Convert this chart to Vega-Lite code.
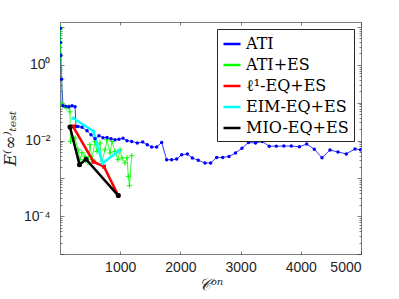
{
  "$schema": "https://vega.github.io/schema/vega-lite/v6.json",
  "width": 301,
  "height": 232,
  "autosize": "none",
  "padding": {"left": 60, "top": 22, "right": 38, "bottom": 45},
  "background": "white",
  "config": {
    "view": {"stroke": null},
    "axis": {"domainColor": "#262626", "tickColor": "#262626", "labelColor": "#262626", "labelFont": "Liberation Sans", "labelFontSize": 14, "grid": false, "domainWidth": 0.6, "tickWidth": 0.6, "titleColor": "#262626", "titleFontWeight": "normal"},
    "legend": {"orient": "top-right", "offset": 7, "labelFont": "DejaVu Serif", "labelFontSize": 16, "labelColor": "#000000", "strokeColor": "#262626", "fillColor": "white", "padding": 5, "rowPadding": 3, "symbolType": "stroke", "symbolSize": 290, "symbolStrokeWidth": 2.5, "labelOffset": 4, "title": null}
  },
  "data": {"values": [
    {"s": "ATI", "x": 5, "y": 9.3}, {"s": "ATI", "x": 8, "y": 3.88}, {"s": "ATI", "x": 13, "y": 1.76}, {"s": "ATI", "x": 25, "y": 0.42},
    {"s": "ATI", "x": 50, "y": 0.083}, {"s": "ATI", "x": 100, "y": 0.080}, {"s": "ATI", "x": 150, "y": 0.078}, {"s": "ATI", "x": 200, "y": 0.083}, {"s": "ATI", "x": 250, "y": 0.078},
    {"s": "ATI", "x": 266, "y": 0.0236}, {"s": "ATI", "x": 299, "y": 0.0236}, {"s": "ATI", "x": 365, "y": 0.0224}, {"s": "ATI", "x": 449, "y": 0.0181}, {"s": "ATI", "x": 515, "y": 0.0142},
    {"s": "ATI", "x": 581, "y": 0.0112}, {"s": "ATI", "x": 648, "y": 0.0134}, {"s": "ATI", "x": 714, "y": 0.0119}, {"s": "ATI", "x": 781, "y": 0.0121}, {"s": "ATI", "x": 847, "y": 0.0112},
    {"s": "ATI", "x": 914, "y": 0.0105}, {"s": "ATI", "x": 980, "y": 0.0108}, {"s": "ATI", "x": 1047, "y": 0.0115}, {"s": "ATI", "x": 1113, "y": 0.0099}, {"s": "ATI", "x": 1191, "y": 0.00946},
    {"s": "ATI", "x": 1284, "y": 0.00859}, {"s": "ATI", "x": 1374, "y": 0.00912}, {"s": "ATI", "x": 1450, "y": 0.00775}, {"s": "ATI", "x": 1523, "y": 0.00674}, {"s": "ATI", "x": 1606, "y": 0.00674},
    {"s": "ATI", "x": 1689, "y": 0.0089}, {"s": "ATI", "x": 1772, "y": 0.00311}, {"s": "ATI", "x": 1855, "y": 0.00311}, {"s": "ATI", "x": 1938, "y": 0.00325}, {"s": "ATI", "x": 2022, "y": 0.00422},
    {"s": "ATI", "x": 2115, "y": 0.0044}, {"s": "ATI", "x": 2198, "y": 0.00345}, {"s": "ATI", "x": 2297, "y": 0.003}, {"s": "ATI", "x": 2409, "y": 0.00255}, {"s": "ATI", "x": 2503, "y": 0.00255},
    {"s": "ATI", "x": 2603, "y": 0.00358}, {"s": "ATI", "x": 2703, "y": 0.00358}, {"s": "ATI", "x": 2807, "y": 0.0038}, {"s": "ATI", "x": 2915, "y": 0.00468}, {"s": "ATI", "x": 3023, "y": 0.00625},
    {"s": "ATI", "x": 3131, "y": 0.0089}, {"s": "ATI", "x": 3248, "y": 0.00859}, {"s": "ATI", "x": 3359, "y": 0.00946}, {"s": "ATI", "x": 3475, "y": 0.00707}, {"s": "ATI", "x": 3593, "y": 0.00711},
    {"s": "ATI", "x": 3718, "y": 0.00715}, {"s": "ATI", "x": 3842, "y": 0.00715}, {"s": "ATI", "x": 3978, "y": 0.00686}, {"s": "ATI", "x": 4098, "y": 0.00808}, {"s": "ATI", "x": 4224, "y": 0.00589},
    {"s": "ATI", "x": 4352, "y": 0.00352}, {"s": "ATI", "x": 4485, "y": 0.00561}, {"s": "ATI", "x": 4618, "y": 0.00497}, {"s": "ATI", "x": 4756, "y": 0.00443}, {"s": "ATI", "x": 4900, "y": 0.006},
    {"s": "ATI", "x": 4992, "y": 0.00572},
    {"s": "ATI+ES", "x": 5, "y": 9.3}, {"s": "ATI+ES", "x": 8, "y": 3.88}, {"s": "ATI+ES", "x": 13, "y": 1.76}, {"s": "ATI+ES", "x": 28, "y": 0.42},
    {"s": "ATI+ES", "x": 30, "y": 0.0935}, {"s": "ATI+ES", "x": 50, "y": 0.083}, {"s": "ATI+ES", "x": 83, "y": 0.08}, {"s": "ATI+ES", "x": 116, "y": 0.0733}, {"s": "ATI+ES", "x": 150, "y": 0.078},
    {"s": "ATI+ES", "x": 166, "y": 0.0575}, {"s": "ATI+ES", "x": 174, "y": 0.00946}, {"s": "ATI+ES", "x": 208, "y": 0.0119}, {"s": "ATI+ES", "x": 249, "y": 0.0116}, {"s": "ATI+ES", "x": 299, "y": 0.00572},
    {"s": "ATI+ES", "x": 332, "y": 0.00311}, {"s": "ATI+ES", "x": 365, "y": 0.00477}, {"s": "ATI+ES", "x": 415, "y": 0.0038}, {"s": "ATI+ES", "x": 465, "y": 0.0026}, {"s": "ATI+ES", "x": 498, "y": 0.00775},
    {"s": "ATI+ES", "x": 532, "y": 0.00311}, {"s": "ATI+ES", "x": 581, "y": 0.00946}, {"s": "ATI+ES", "x": 615, "y": 0.00516}, {"s": "ATI+ES", "x": 664, "y": 0.00859}, {"s": "ATI+ES", "x": 698, "y": 0.00281},
    {"s": "ATI+ES", "x": 748, "y": 0.00572}, {"s": "ATI+ES", "x": 781, "y": 0.0105}, {"s": "ATI+ES", "x": 831, "y": 0.00468}, {"s": "ATI+ES", "x": 864, "y": 0.00946}, {"s": "ATI+ES", "x": 914, "y": 0.00516},
    {"s": "ATI+ES", "x": 963, "y": 0.00311}, {"s": "ATI+ES", "x": 997, "y": 0.00572}, {"s": "ATI+ES", "x": 1030, "y": 0.00345}, {"s": "ATI+ES", "x": 1080, "y": 0.00255}, {"s": "ATI+ES", "x": 1113, "y": 0.00352},
    {"s": "ATI+ES", "x": 1135, "y": 0.00113}, {"s": "ATI+ES", "x": 1154, "y": 0.00064}, {"s": "ATI+ES", "x": 1191, "y": 0.00397},
    {"s": "ℓ¹-EQ+ES", "x": 216, "y": 0.0236}, {"s": "ℓ¹-EQ+ES", "x": 556, "y": 0.00276}, {"s": "ℓ¹-EQ+ES", "x": 731, "y": 0.00204}, {"s": "ℓ¹-EQ+ES", "x": 968, "y": 0.00035},
    {"s": "EIM-EQ+ES", "x": 221, "y": 0.0388}, {"s": "EIM-EQ+ES", "x": 556, "y": 0.0176}, {"s": "EIM-EQ+ES", "x": 706, "y": 0.00252}, {"s": "EIM-EQ+ES", "x": 980, "y": 0.00538},
    {"s": "MIO-EQ+ES", "x": 166, "y": 0.0227}, {"s": "MIO-EQ+ES", "x": 324, "y": 0.0023}, {"s": "MIO-EQ+ES", "x": 432, "y": 0.00321}, {"s": "MIO-EQ+ES", "x": 968, "y": 0.00035}
  ]},
  "layer": [
    {
      "transform": [{"filter": "datum.s == 'ATI' || datum.s == 'ATI+ES'"}],
      "mark": {"type": "line", "clip": true, "strokeWidth": 0.8},
      "encoding": {
        "x": {"field": "x", "type": "quantitative", "scale": {"domain": [0, 5000], "nice": false, "zero": false},
          "axis": {"orient": "bottom", "values": [1000, 2000, 3000, 4000, 5000], "format": "d", "tickSize": -3, "labelPadding": 9, "title": "𝒞ᵒⁿ", "titleFont": "DejaVu Serif", "titleFontSize": 16, "titleFontStyle": "italic", "titlePadding": 2}},
        "y": {"field": "y", "type": "quantitative", "scale": {"type": "log", "domain": [0.00001, 13.6], "nice": false},
          "axis": {"orient": "left", "values": [0.00001,0.00002,0.00003,0.00004,0.00005,0.00006,0.00007,0.00008,0.00009,0.0001,0.0002,0.0003,0.0004,0.0005,0.0006,0.0007,0.0008,0.0009,0.001,0.002,0.003,0.004,0.005,0.006,0.007,0.008,0.009,0.01,0.02,0.03,0.04,0.05,0.06,0.07,0.08,0.09,0.1,0.2,0.3,0.4,0.5,0.6,0.7,0.8,0.9,1,2,3,4,5,6,7,8,9,10],
            "labelExpr": "datum.value == 1 ? '10⁰' : datum.value == 0.01 ? '10⁻²' : datum.value == 0.0001 ? '10⁻⁴' : ''",
            "tickSize": {"condition": {"test": "abs(log(datum.value)/LN10 - round(log(datum.value)/LN10)) < 0.001", "value": -4}, "value": -2},
            "labelPadding": 14, "title": "E⁽∞⁾ₜₑₛₜ", "titleFont": "DejaVu Serif", "titleFontSize": 17, "titleFontStyle": "italic", "titlePadding": 4}},
        "color": {"field": "s", "type": "nominal", "scale": {"domain": ["ATI", "ATI+ES", "ℓ¹-EQ+ES", "EIM-EQ+ES", "MIO-EQ+ES"], "range": ["#0000ff", "#00ff00", "#ff0000", "#00ffff", "#000000"]}}
      }
    },
    {
      "transform": [{"filter": "datum.s == 'ATI+ES'"}],
      "mark": {"type": "point", "filled": false, "shape": "M-1,0H1M0,-1V1", "size": 28, "strokeWidth": 1, "opacity": 1, "clip": true},
      "encoding": {
        "x": {"field": "x", "type": "quantitative", "axis": null},
        "y": {"field": "y", "type": "quantitative", "axis": null},
        "color": {"field": "s", "type": "nominal"}
      }
    },
    {
      "transform": [{"filter": "datum.s != 'ATI' && datum.s != 'ATI+ES'"}],
      "mark": {"type": "line", "clip": true, "strokeWidth": 2.5},
      "encoding": {
        "x": {"field": "x", "type": "quantitative", "axis": null},
        "y": {"field": "y", "type": "quantitative", "axis": null},
        "color": {"field": "s", "type": "nominal"}
      }
    },
    {
      "transform": [{"filter": "datum.s != 'ATI+ES'"}],
      "mark": {"type": "point", "filled": true, "opacity": 1, "clip": true},
      "encoding": {
        "x": {"field": "x", "type": "quantitative", "axis": {"orient": "top", "values": [1000, 2000, 3000, 4000, 5000], "tickSize": -3, "labels": false, "title": null}},
        "y": {"field": "y", "type": "quantitative",
          "axis": {"orient": "right", "values": [0.00001,0.00002,0.00003,0.00004,0.00005,0.00006,0.00007,0.00008,0.00009,0.0001,0.0002,0.0003,0.0004,0.0005,0.0006,0.0007,0.0008,0.0009,0.001,0.002,0.003,0.004,0.005,0.006,0.007,0.008,0.009,0.01,0.02,0.03,0.04,0.05,0.06,0.07,0.08,0.09,0.1,0.2,0.3,0.4,0.5,0.6,0.7,0.8,0.9,1,2,3,4,5,6,7,8,9,10],
            "labels": false, "title": null,
            "tickSize": {"condition": {"test": "abs(log(datum.value)/LN10 - round(log(datum.value)/LN10)) < 0.001", "value": -4}, "value": -2}}},
        "color": {"field": "s", "type": "nominal"},
        "shape": {"field": "s", "type": "nominal", "legend": null, "scale": {"domain": ["ATI", "ℓ¹-EQ+ES", "EIM-EQ+ES", "MIO-EQ+ES"], "range": ["circle", "square", "diamond", "circle"]}},
        "size": {"field": "s", "type": "nominal", "legend": null, "scale": {"domain": ["ATI", "ℓ¹-EQ+ES", "EIM-EQ+ES", "MIO-EQ+ES"], "range": [12, 25, 22, 36]}}
      }
    }
  ]
}
